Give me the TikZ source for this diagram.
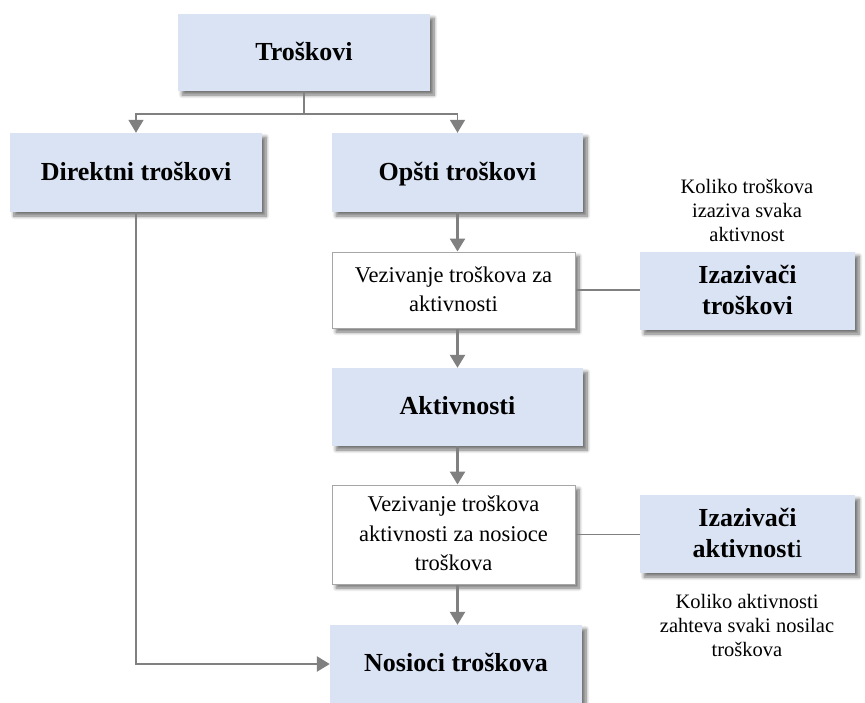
\documentclass[tikz,border=0pt]{standalone}
\usepackage{fontspec}
\setmainfont{Liberation Serif}
\usetikzlibrary{arrows.meta,shadows.blur}

\definecolor{boxblue}{HTML}{DAE3F3}
\definecolor{linegray}{HTML}{808080}
\definecolor{framegray}{HTML}{A6A6A6}

% fixed line height so accents do not shift the text inside a box
\newcommand{\lnstrut}{\rule[-0.2em]{0pt}{1.0em}}

\tikzset{
  softshadow/.style={blur shadow={shadow xshift=4pt, shadow yshift=-4pt,
      shadow blur radius=3.5pt, shadow blur steps=8, shadow opacity=55}},
  bluebox/.style={rectangle, fill=boxblue, softshadow, align=center,
      font=\fontsize{26}{30.5}\selectfont\bfseries, inner sep=0pt},
  whitebox/.style={rectangle, fill=white, draw=framegray, line width=1pt,
      softshadow, align=center, font=\fontsize{22.5}{29.5}\selectfont, inner sep=0pt},
  notetext/.style={align=center, font=\fontsize{20.5}{24}\selectfont, inner sep=0pt},
  flow/.style={draw=linegray, line width=2.6pt,
      -{Triangle[width=15pt,length=13pt]}},
  split/.style={draw=linegray, line width=1.8pt},
  tie/.style={draw=linegray, line width=1.2pt},
}

\begin{document}
\begin{tikzpicture}[x=1pt, y=-1pt]
\useasboundingbox (0,0) rectangle (865,702);

% main boxes
\node[bluebox, minimum width=252pt, minimum height=77pt] (tros) at (304,52.5) {\lnstrut Troškovi};
\node[bluebox, minimum width=252pt, minimum height=79pt] (direkt) at (136,172.5) {\lnstrut Direktni troškovi};
\node[bluebox, minimum width=251pt, minimum height=79pt] (opsti) at (457.5,172.5) {\lnstrut Opšti troškovi};
\node[whitebox, minimum width=243pt, minimum height=76pt] (vez1) at (453.5,290) {\lnstrut Vezivanje troškova za\\\lnstrut aktivnosti};
\node[bluebox, minimum width=215pt, minimum height=78pt] (izt) at (747.5,291) {\lnstrut Izazivači\\\lnstrut troškovi};
\node[bluebox, minimum width=251pt, minimum height=78pt] (akt) at (457.5,407) {\lnstrut Aktivnosti};
\node[whitebox, minimum width=243pt, minimum height=99pt] (vez2) at (453.5,534.5) {\lnstrut Vezivanje troškova\\\lnstrut aktivnosti za nosioce\\\lnstrut troškova};
\node[bluebox, minimum width=215pt, minimum height=78pt] (iza) at (747.5,534) {\lnstrut Izazivači\\\lnstrut aktivnost{\mdseries i}};
\node[bluebox, minimum width=252pt, minimum height=78pt] (nos) at (456,664) {\lnstrut Nosioci troškova};

% notes
\node[notetext] (note1) at (747,211) {\lnstrut Koliko troškova\\\lnstrut izaziva svaka\\\lnstrut aktivnost};
\node[notetext] (note2) at (747,626) {\lnstrut Koliko aktivnosti\\\lnstrut zahteva svaki nosilac\\\lnstrut troškova};

% split from the top box
\coordinate (fork) at (tros.south |- 0,114);
\draw[split] (tros.south) -- (fork);
\draw[split, -{Triangle[width=15pt,length=13pt]}] (fork) -| (direkt.north);
\draw[split, -{Triangle[width=15pt,length=13pt]}] (fork) -| (opsti.north);

% vertical flow
\draw[flow] (opsti.south) -- (opsti.south |- vez1.north);
\draw[flow] (opsti.south |- vez1.south) -- (akt.north);
\draw[flow] (akt.south) -- (akt.south |- vez2.north);
\draw[flow] (akt.south |- vez2.south) -- (akt.south |- nos.north);

% direct costs go straight to the cost objects
\draw[flow] (direkt.south) |- (nos.west);

% drivers
\draw[tie] (vez1.east) -- (izt.west |- vez1.east);
\draw[tie] (vez2.east) -- (iza.west |- vez2.east);
\end{tikzpicture}
\end{document}
